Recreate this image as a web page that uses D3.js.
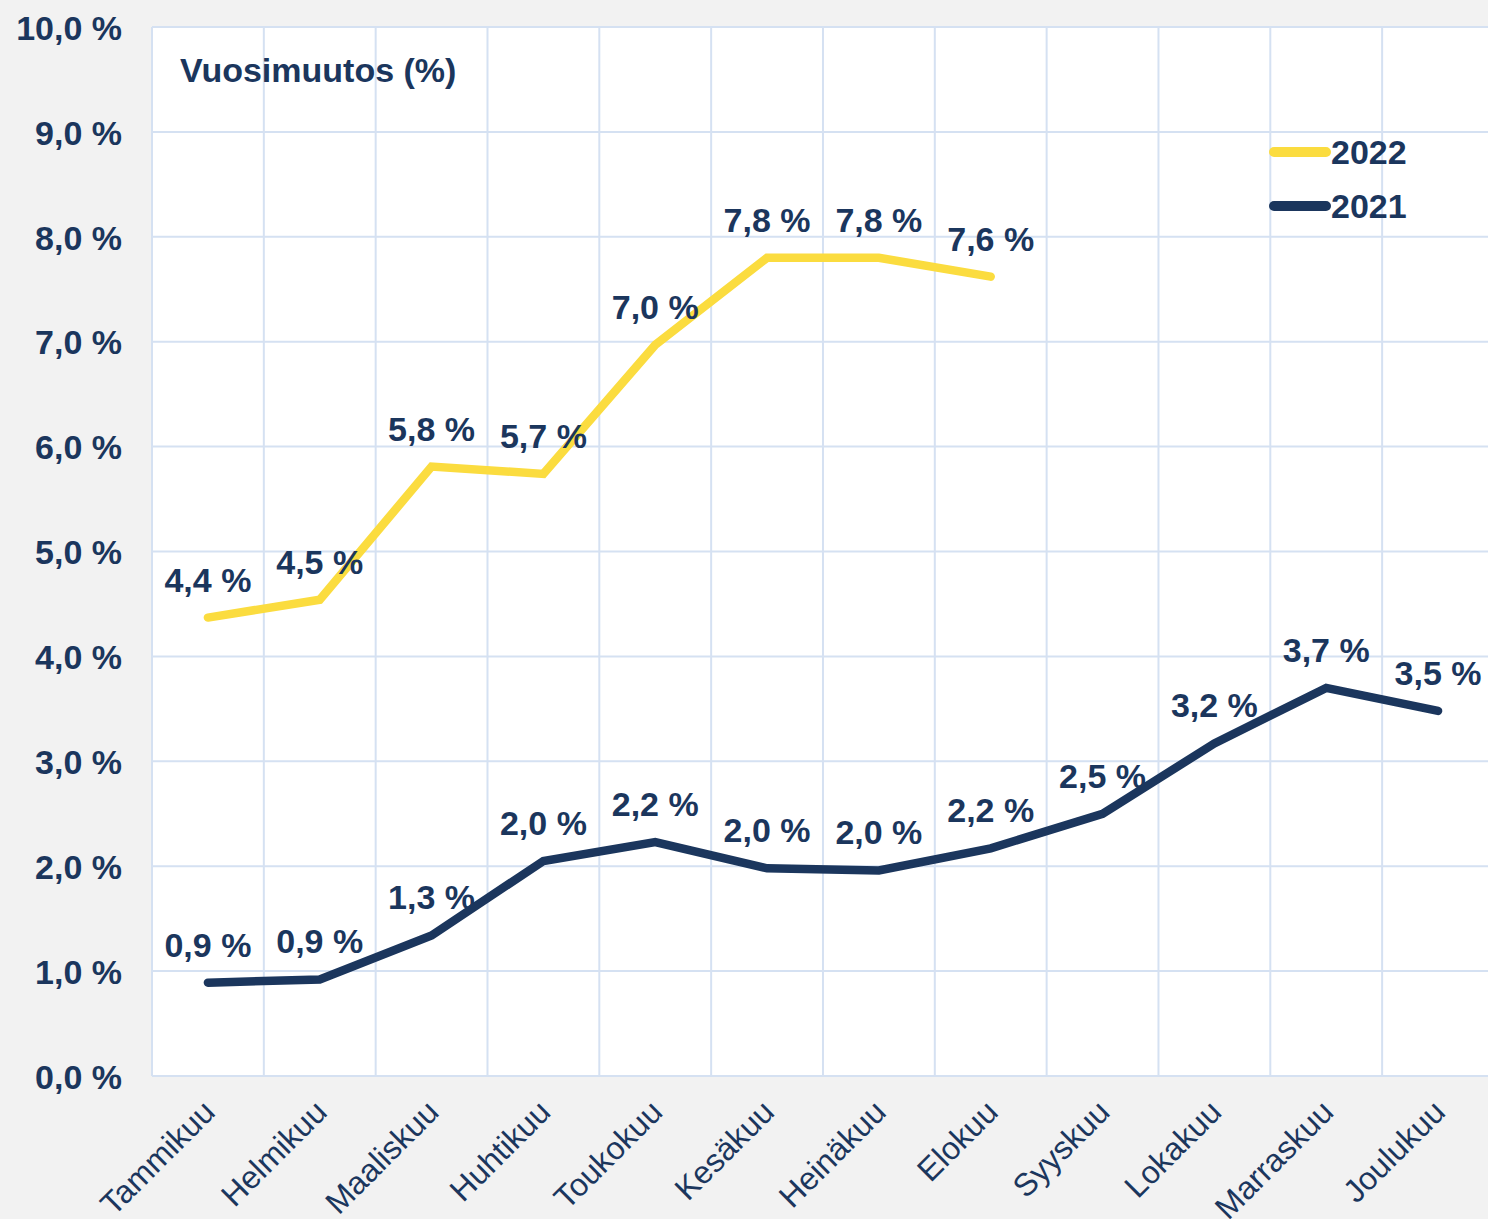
<!DOCTYPE html>
<html>
<head>
<meta charset="utf-8">
<script src="https://cdn.jsdelivr.net/npm/d3@7"></script>
<style>
  html, body { margin: 0; padding: 0; background: #f2f2f2; overflow: hidden; }
  text { font-family: "Liberation Sans", Arial, sans-serif; fill: #1b365d; }
</style>
</head>
<body>
<div id="chart"></div>
<script>
// months (x categories)
const months = ["Tammikuu", "Helmikuu", "Maaliskuu", "Huhtikuu", "Toukokuu", "Kesäkuu",
  "Heinäkuu", "Elokuu", "Syyskuu", "Lokakuu", "Marraskuu", "Joulukuu"];
// yearly change, %
const values2022 = [4.37, 4.54, 5.81, 5.74, 6.97, 7.80, 7.80, 7.62];
const values2021 = [0.89, 0.92, 1.34, 2.05, 2.23, 1.98, 1.96, 2.17, 2.50, 3.17, 3.70, 3.48];
const yTicks = [0, 1, 2, 3, 4, 5, 6, 7, 8, 9, 10];

const navy = "#1b365d";
const yellow = "#fbdc3f";
const grid = "#d5e1f2";

const W = 1488, H = 1219;
const margin = { top: 27, left: 152, bottom: 143 };
const plotW = 12 * 111.83; // runs past the right edge like the original
const plotH = H - margin.top - margin.bottom;

const svg = d3.select("#chart").append("svg")
  .attr("width", W)
  .attr("height", H);

svg.append("rect").attr("width", W).attr("height", H).attr("fill", "#f2f2f2");

const g = svg.append("g")
  .attr("transform", "translate(" + margin.left + "," + margin.top + ")");

g.append("rect")
  .attr("width", plotW).attr("height", plotH)
  .attr("fill", "#fff");

let xScale = d3.scaleBand().domain(months).range([0, plotW]);
let yScale = d3.scaleLinear().domain([0, 10]).range([plotH, 0]);
let xMid = (d) => xScale(d) + xScale.bandwidth() / 2;

// horizontal grid
g.selectAll(".hgrid").data(yTicks).enter()
  .append("line")
    .attr("x1", 0).attr("x2", plotW)
    .attr("y1", d => yScale(d)).attr("y2", d => yScale(d))
    .attr("stroke", grid).attr("stroke-width", 2);

// vertical grid at category edges
g.selectAll(".vgrid").data(d3.range(months.length + 1)).enter()
  .append("line")
    .attr("x1", d => d * xScale.step()).attr("x2", d => d * xScale.step())
    .attr("y1", 0).attr("y2", plotH)
    .attr("stroke", grid).attr("stroke-width", 2);

// y axis
let yAxis = g.append("g")
  .call(d3.axisLeft(yScale)
    .tickValues(yTicks)
    .tickSize(0)
    .tickPadding(30)
    .tickFormat(d => d3.format(".1f")(d).replace(".", ",") + " %"));
yAxis.select(".domain").remove();
yAxis.selectAll("text")
  .style("font-size", "34px")
  .style("font-weight", "bold")
  .attr("fill", navy)
  .attr("dy", "0.36em");

// x axis
let xAxis = g.append("g")
  .attr("transform", "translate(0," + plotH + ")")
  .call(d3.axisBottom(xScale).tickSize(0).tickPadding(0));
xAxis.select(".domain").remove();
xAxis.selectAll("text")
  .style("font-size", "32px")
  .attr("fill", navy)
  .attr("text-anchor", "end")
  .attr("dy", 0)
  .attr("transform", "translate(9,38) rotate(-45)");

// title
g.append("text")
  .attr("x", 28).attr("y", 55)
  .style("font-size", "34px")
  .style("font-weight", "bold")
  .text("Vuosimuutos (%)");

// lines
let valueLine = d3.line()
  .x((d, i) => xMid(months[i]))
  .y(d => yScale(d));

const series = [
  { name: "2022", values: values2022, color: yellow },
  { name: "2021", values: values2021, color: navy }
];

series.forEach(s => {
  g.append("path")
    .attr("d", valueLine(s.values))
    .attr("fill", "none")
    .attr("stroke", s.color)
    .attr("stroke-width", 8.5)
    .attr("stroke-linejoin", "miter")
    .attr("stroke-linecap", "round");
});

// data labels
series.forEach(s => {
  g.selectAll(".lbl" + s.name).data(s.values).enter()
    .append("text")
      .attr("x", (d, i) => xMid(months[i]))
      .attr("y", d => yScale(d) - 26)
      .attr("text-anchor", "middle")
      .style("font-size", "34px")
      .style("font-weight", "bold")
      .text(d => d3.format(".1f")(d).replace(".", ",") + " %");
});

// legend
series.forEach((s, i) => {
  let ly = 125 + i * 54;
  g.append("line")
    .attr("x1", 1122).attr("x2", 1174)
    .attr("y1", ly).attr("y2", ly)
    .attr("stroke", s.color)
    .attr("stroke-width", 10)
    .attr("stroke-linecap", "round");
  g.append("text")
    .attr("x", 1179).attr("y", ly + 12)
    .style("font-size", "34px")
    .style("font-weight", "bold")
    .text(s.name);
});
</script>
</body>
</html>
